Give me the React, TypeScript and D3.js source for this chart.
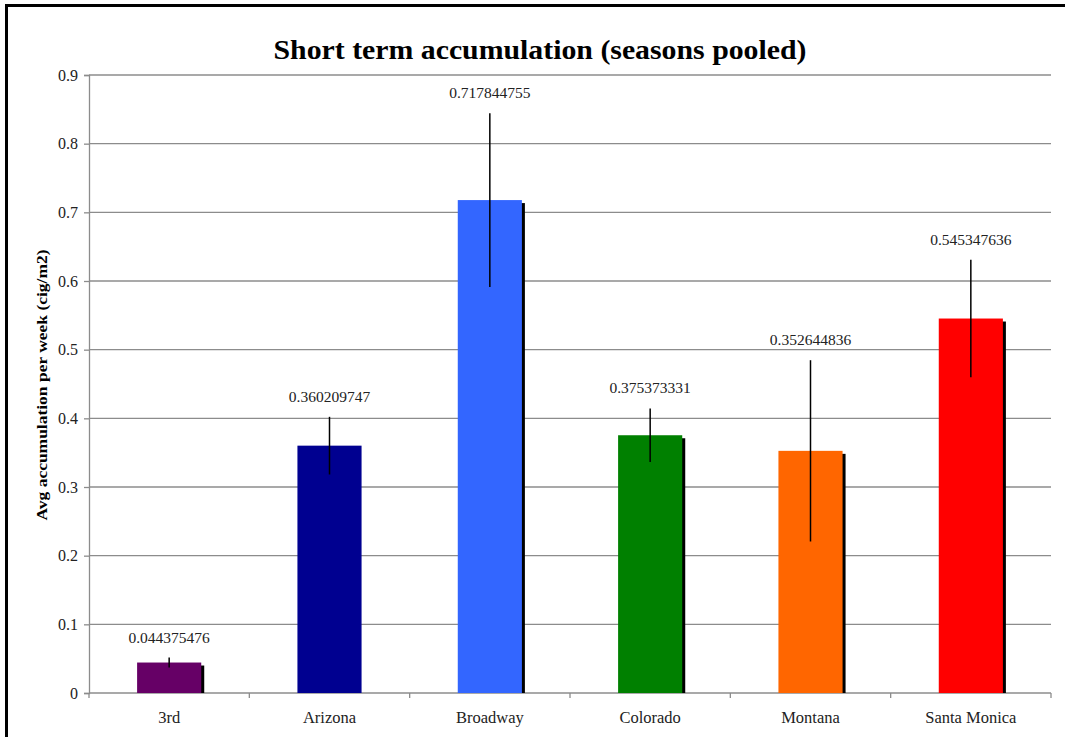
import React, { useEffect, useRef } from 'react';
import * as d3 from 'd3';

const sites = ['3rd', 'Arizona', 'Broadway', 'Colorado', 'Montana', 'Santa Monica'];
const avgAccumulation = [0.044375476, 0.360209747, 0.717844755, 0.375373331, 0.352644836, 0.545347636];
const errorAmount = [0.0073, 0.042, 0.1265, 0.039, 0.132, 0.0855];
const barColors = ['#660066', '#000090', '#3366ff', '#008000', '#ff6600', '#ff0000'];
const yTicks = [0, 0.1, 0.2, 0.3, 0.4, 0.5, 0.6, 0.7, 0.8, 0.9];

const W = 1065;
const H = 737;
const FONT = '"Liberation Serif", "Times New Roman", serif';

function App() {
  const ref = useRef<SVGSVGElement>(null);

  useEffect(() => {
    const svg = d3.select(ref.current);
    svg.selectAll('*').remove();

    const margin = { left: 89, right: 14, top: 75, bottom: 44 };
    const x = d3
      .scaleBand()
      .domain(sites)
      .range([margin.left, W - margin.right])
      .paddingInner(0.6)
      .paddingOuter(0.3);
    const y = d3
      .scaleLinear()
      .domain([0, 0.9])
      .range([H - margin.bottom, margin.top]);

    // outer frame
    svg
      .append('rect')
      .attr('x', 6.5)
      .attr('y', 5.5)
      .attr('width', W + 10)
      .attr('height', H + 10)
      .attr('fill', 'white')
      .attr('stroke', 'black')
      .attr('stroke-width', 3);

    // gridlines
    svg
      .append('g')
      .selectAll('line')
      .data(yTicks.filter(t => t > 0))
      .join('line')
      .attr('x1', margin.left)
      .attr('x2', W - margin.right)
      .attr('y1', d => y(d))
      .attr('y2', d => y(d))
      .attr('stroke', '#8c8c8c')
      .attr('stroke-width', 1.3);

    // y axis
    const yAxis = svg
      .append('g')
      .attr('transform', `translate(${margin.left},0)`)
      .call(
        d3
          .axisLeft(y)
          .tickValues(yTicks)
          .tickFormat(d => (d === 0 ? '0' : d3.format('.1f')(d as number)))
          .tickSize(5)
          .tickPadding(6)
      );
    yAxis.select('.domain').attr('stroke', '#8c8c8c').attr('stroke-width', 1.3);
    yAxis.selectAll('.tick line').attr('stroke', '#8c8c8c').attr('stroke-width', 1.3);
    yAxis
      .selectAll('.tick text')
      .attr('font-family', FONT)
      .attr('font-size', 16)
      .attr('fill', '#222');

    // x axis
    const step = x.step();
    const xAxis = svg
      .append('g')
      .attr('transform', `translate(0,${y(0)})`)
      .call(d3.axisBottom(x).tickSize(0).tickPadding(18));
    xAxis.select('.domain').remove();
    xAxis
      .selectAll('.tick text')
      .attr('font-family', FONT)
      .attr('font-size', 16.5)
      .attr('fill', '#222');
    const xSep = sites.map((_, i) => margin.left + i * step).concat([W - margin.right]);
    const xLine = svg.append('g').attr('transform', `translate(0,${y(0)})`);
    xLine
      .append('line')
      .attr('x1', margin.left)
      .attr('x2', W - margin.right)
      .attr('stroke', '#8c8c8c')
      .attr('stroke-width', 1.3);
    xLine
      .selectAll('line.sep')
      .data(xSep)
      .join('line')
      .attr('class', 'sep')
      .attr('x1', d => d)
      .attr('x2', d => d)
      .attr('y1', 0)
      .attr('y2', 5)
      .attr('stroke', '#8c8c8c')
      .attr('stroke-width', 1.3);

    const bars = svg
      .append('g')
      .selectAll('g')
      .data(sites)
      .join('g');

    // drop shadows (the dark navy bar shows none in the original)
    bars
      .filter((d, i) => i !== 1)
      .append('rect')
      .attr('x', d => (x(d) as number) + 3)
      .attr('y', d => y(avgAccumulation[sites.indexOf(d)]) + 3)
      .attr('width', x.bandwidth())
      .attr('height', d => y(0) - y(avgAccumulation[sites.indexOf(d)]) - 3)
      .attr('fill', 'black');

    bars
      .append('rect')
      .attr('x', d => x(d) as number)
      .attr('y', (d, i) => y(avgAccumulation[i]))
      .attr('width', x.bandwidth())
      .attr('height', (d, i) => y(0) - y(avgAccumulation[i]))
      .attr('fill', (d, i) => barColors[i]);

    // error bars
    bars
      .append('line')
      .attr('x1', d => (x(d) as number) + x.bandwidth() / 2)
      .attr('x2', d => (x(d) as number) + x.bandwidth() / 2)
      .attr('y1', (d, i) => y(avgAccumulation[i] + errorAmount[i]))
      .attr('y2', (d, i) => y(avgAccumulation[i] - errorAmount[i]))
      .attr('stroke', 'black')
      .attr('stroke-width', 1.5);

    // value labels
    bars
      .append('text')
      .attr('x', d => (x(d) as number) + x.bandwidth() / 2)
      .attr('y', (d, i) => y(avgAccumulation[i] + errorAmount[i]) - 15)
      .attr('text-anchor', 'middle')
      .attr('font-family', FONT)
      .attr('font-size', 15.5)
      .attr('fill', '#222')
      .text((d, i) => String(avgAccumulation[i]));

    // title
    svg
      .append('text')
      .attr('x', 540)
      .attr('y', 59)
      .attr('text-anchor', 'middle')
      .attr('font-family', FONT)
      .attr('font-weight', 'bold')
      .attr('font-size', 28)
      .attr('textLength', 533)
      .attr('lengthAdjust', 'spacingAndGlyphs')
      .text('Short term accumulation (seasons pooled)');

    // y axis title
    svg
      .append('text')
      .attr('transform', `translate(47,${(y(0) + y(0.9)) / 2 + 1}) rotate(-90)`)
      .attr('text-anchor', 'middle')
      .attr('font-family', FONT)
      .attr('font-weight', 'bold')
      .attr('font-size', 15)
      .attr('textLength', 271)
      .attr('lengthAdjust', 'spacingAndGlyphs')
      .text('Avg accumulation per week (cig/m2)');
  }, []);

  return (
    <svg
      ref={ref}
      width={W}
      height={H}
      style={{ position: 'absolute', left: 0, top: 0, background: 'white' }}
    />
  );
}

export default App;
